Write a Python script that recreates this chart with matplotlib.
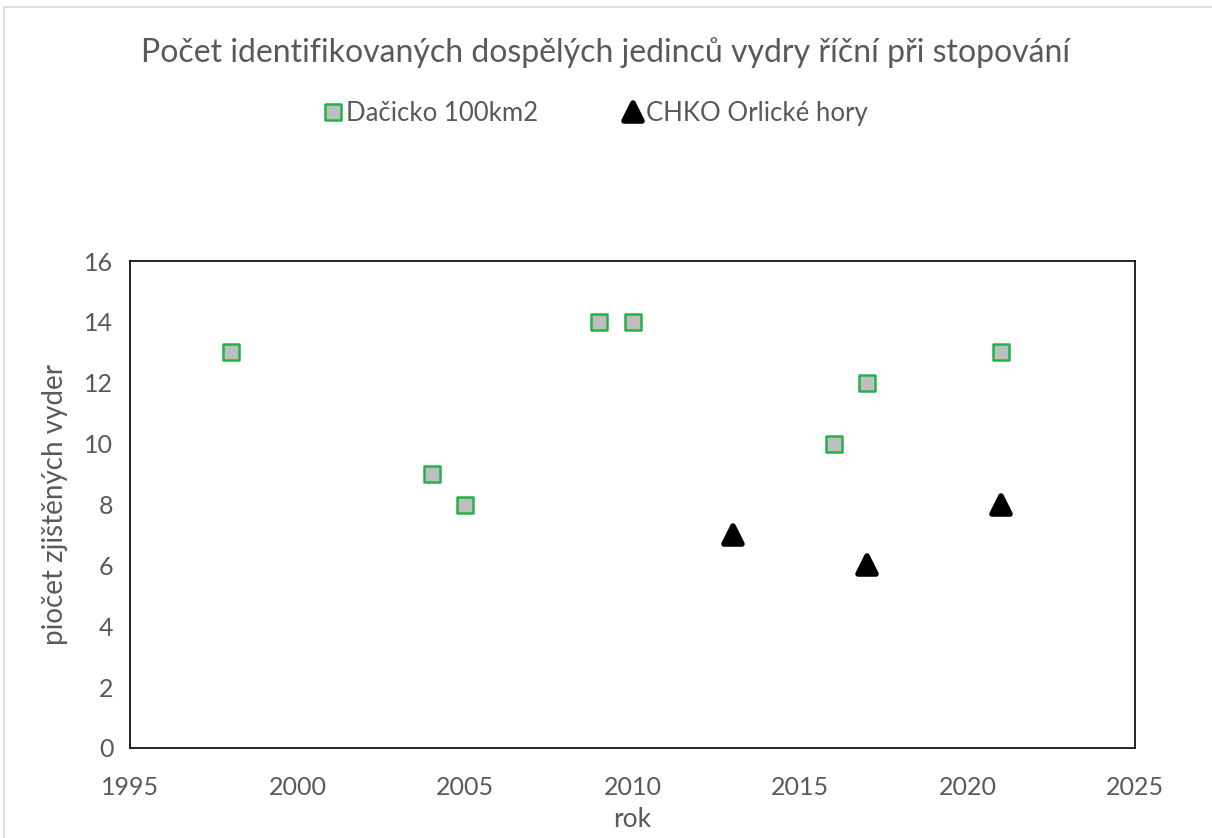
import matplotlib.pyplot as plt
from matplotlib.markers import MarkerStyle
from matplotlib.patches import Rectangle

plt.rcParams['font.family'] = ['Lato', 'DejaVu Sans']

dacicko_years = [1998, 2004, 2005, 2009, 2010, 2016, 2017, 2021]
dacicko_counts = [13, 9, 8, 14, 14, 10, 12, 13]
chko_years = [2013, 2017, 2021]
chko_counts = [7, 6, 8]

fig = plt.figure(figsize=(12.12, 8.38), dpi=100)
ax = fig.add_axes([0.1073, 0.1074, 0.8292, 0.5811])

grey = '#595959'

ax.plot(dacicko_years, dacicko_counts, linestyle='none',
        marker=MarkerStyle('s', joinstyle='round'), markersize=11,
        markerfacecolor='#bfbfbf', markeredgecolor='#21b24b', markeredgewidth=1.8,
        label='Dačicko 100km2')
ax.plot(chko_years, chko_counts, linestyle='none',
        marker=MarkerStyle('^', joinstyle='round'), markersize=13,
        markerfacecolor='black', markeredgecolor='black', markeredgewidth=4,
        label='CHKO Orlické hory')

ax.set_xlim(1995, 2025)
ax.set_ylim(0, 16)
ax.set_xticks(range(1995, 2026, 5))
ax.set_yticks(range(0, 17, 2))
ax.tick_params(axis='both', labelsize=18, labelcolor=grey, length=0)
ax.tick_params(axis='x', pad=20)
ax.tick_params(axis='y', pad=12)
for s in ax.spines.values():
    s.set_color('black')
    s.set_linewidth(1.2)

ax.set_xlabel('rok', fontsize=19, color=grey, labelpad=6)
ax.set_ylabel('piočet zjištěných vyder', fontsize=20, color=grey, labelpad=12)

fig.text(0.5, 0.937, 'Počet identifikovaných dospělých jedinců vydry říční při stopování',
         ha='center', va='center', fontsize=23, color=grey)

fig.legend(loc='center', bbox_to_anchor=(0.49, 0.865), ncol=2, frameon=False,
           fontsize=18.5, labelcolor=grey, handletextpad=0.0, columnspacing=3.2,
           handlelength=1.0)

fig.patches.append(Rectangle((0.003, -0.01), 1.0, 1.002, transform=fig.transFigure,
                             fill=False, edgecolor='#d9d9d9', linewidth=1.2))

fig.savefig('out.png', dpi=100)
